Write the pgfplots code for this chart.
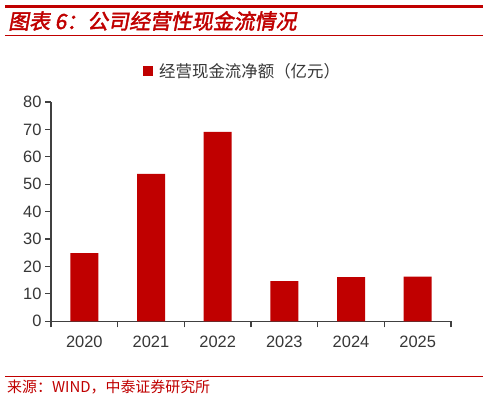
\documentclass[border=0pt]{standalone}
\usepackage{pgfplots}
\pgfplotsset{compat=1.18}
\usepackage{fontspec}
\setmainfont{Liberation Sans}
\newfontfamily\cjk{Noto Sans CJK SC}
\newfontfamily\cjktitle[FakeSlant=0.18,FakeBold=2]{Noto Sans CJK SC}
\definecolor{barred}{RGB}{192,0,0}
\definecolor{axgray}{RGB}{64,64,64}
\definecolor{txtgray}{RGB}{55,55,55}
\begin{document}
\begin{tikzpicture}[x=1bp,y=1bp]
\useasboundingbox (0,0) rectangle (488,401);
\fill[white] (0,0) rectangle (488,401);
\draw[barred, line width=3bp] (5,394.2) -- (483,394.2);
\node[anchor=base west, inner sep=0, text=barred] at (8,372) {\fontsize{21}{21}\selectfont\cjktitle 图表 6：公司经营性现金流情况};
\draw[barred, line width=1bp] (5,365.3) -- (483,365.3);
\draw[barred, line width=1bp] (5,24.3) -- (483,24.3);
\node[anchor=base west, inner sep=0, text=barred] at (7,9) {\fontsize{15}{15}\selectfont\cjk 来源：WIND，中泰证券研究所};
\begin{axis}[
  at={(51bp,79.7bp)}, anchor=south west,
  scale only axis, width=400bp, height=219.3bp,
  xmin=-0.5, xmax=5.5, ymin=0, ymax=80,
  axis x line*=bottom, axis y line*=left,
  axis line style={axgray, line width=1.2bp},
  xtick={0,1,2,3,4,5},
  xticklabels={2020,2021,2022,2023,2024,2025},
  major x tick style={draw=none},
  minor xtick={-0.5,0.5,1.5,2.5,3.5,4.5,5.5},
  ytick={0,10,...,80},
  tick align=outside,
  tick style={axgray, line width=1.2bp},
  major tick length=6bp, minor tick length=6bp,
  /pgf/number format/assume math mode=true,
  ticklabel style={font=\fontsize{16.5}{16.5}\selectfont, text=txtgray},
  xticklabel style={yshift=-5bp},
  ybar, bar width=28bp,
  legend style={draw=none, fill=none, at={(0.23,1.141)}, anchor=west, inner sep=0pt,
    font=\fontsize{16.5}{16.5}\selectfont\cjk, text=txtgray},
  legend image code/.code={\fill[barred] (0bp,-5bp) rectangle (10bp,5bp); \path (14bp,0bp);},
]
\addplot[fill=barred, draw=none] coordinates {(0,24.9) (1,53.8) (2,69.1) (3,14.7) (4,16.1) (5,16.3)};
\legend{经营现金流净额（亿元）}
\end{axis}
\end{tikzpicture}
\end{document}
